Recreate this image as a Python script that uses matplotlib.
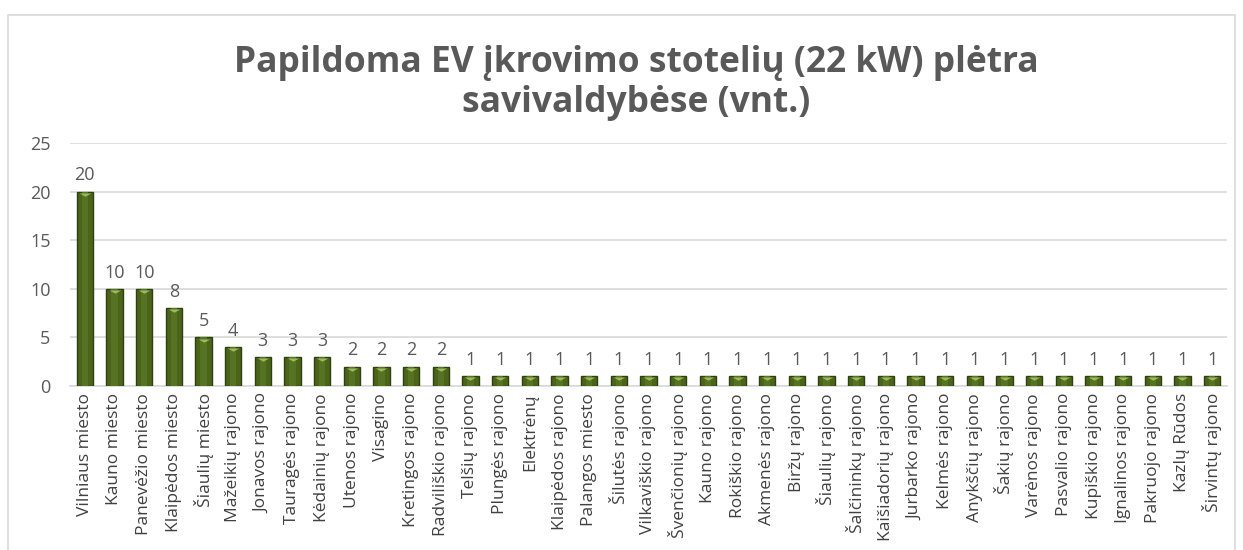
import numpy as np
import matplotlib.pyplot as plt
from matplotlib.patches import Rectangle

# savivaldybes ir papildomu stoteliu skaicius
savivaldybes = [
    "Vilniaus miesto", "Kauno miesto", "Panevėžio miesto", "Klaipėdos miesto",
    "Šiaulių miesto", "Mažeikių rajono", "Jonavos rajono", "Tauragės rajono",
    "Kėdainių rajono", "Utenos rajono", "Visagino", "Kretingos rajono",
    "Radviliškio rajono", "Telšių rajono", "Plungės rajono", "Elektrėnų",
    "Klaipėdos rajono", "Palangos miesto", "Šilutės rajono", "Vilkaviškio rajono",
    "Švenčionių rajono", "Kauno rajono", "Rokiškio rajono", "Akmenės rajono",
    "Biržų rajono", "Šiaulių rajono", "Šalčininkų rajono", "Kaišiadorių rajono",
    "Jurbarko rajono", "Kelmės rajono", "Anykščių rajono", "Šakių rajono",
    "Varėnos rajono", "Pasvalio rajono", "Kupiškio rajono", "Ignalinos rajono",
    "Pakruojo rajono", "Kazlų Rūdos", "Širvintų rajono",
]
stoteles = [20, 10, 10, 8, 5, 4, 3, 3, 3, 2, 2, 2, 2] + [1] * 26

title = "Papildoma EV įkrovimo stotelių (22 kW) plėtra\nsavivaldybėse (vnt.)"
yticks = [0, 5, 10, 15, 20, 25]

plt.rcParams['font.family'] = ['Open Sans', 'DejaVu Sans']
gray = "#595959"

fig = plt.figure(figsize=(12.43, 5.5), dpi=100)
fig.patches.append(Rectangle((8 / 1243, -0.01), 1227 / 1243, 1 - 15 / 550 + 0.01,
                             transform=fig.transFigure, fill=False,
                             edgecolor="#d9d9d9", linewidth=1.2))

ax = fig.add_axes([70 / 1243, 1 - 386 / 550, 1157 / 1243, (386 - 143) / 550])
x = np.arange(len(savivaldybes))
ax.bar(x, stoteles, width=0.54, color="#4a6419", edgecolor="#2f4010",
       linewidth=1.0, zorder=3)
# lighter stripe in the middle of each bar (simple gradient look)
ax.bar(x, stoteles, width=0.22, color="#557322", linewidth=0, zorder=3)
# light bevel on top of each bar
bevel = [(-1, 0), (1, 0), (0, -0.55)]
ax.scatter(x, np.array(stoteles) - 0.12, marker=bevel, s=70, color="#9dbb5c",
           zorder=4, linewidths=0)

for xi, v in zip(x, stoteles):
    ax.text(xi, v + 0.75, str(v), ha="center", va="bottom", fontsize=13,
            color=gray)

ax.set_xlim(-0.5, 38.5)
ax.set_ylim(0, 25)
ax.set_yticks(yticks)
ax.grid(axis="y", color="#d9d9d9", linewidth=1.2, zorder=0)
ax.set_xticks(x)
ax.set_xticklabels(savivaldybes, rotation=90, fontsize=12.5, color="#404040")
ax.tick_params(axis="y", labelsize=13, labelcolor=gray, length=0, pad=14)
ax.tick_params(axis="x", length=0, pad=5)
for s in ["top", "right", "left"]:
    ax.spines[s].set_visible(False)
ax.spines["bottom"].set_color("#d9d9d9")
ax.spines["bottom"].set_linewidth(1.2)

fig.text(636 / 1243, 1 - 83 / 550, title, ha="center", va="center", fontsize=25.5,
         fontweight="bold", color=gray, linespacing=1.15)

fig.savefig("out.png", dpi=100)
